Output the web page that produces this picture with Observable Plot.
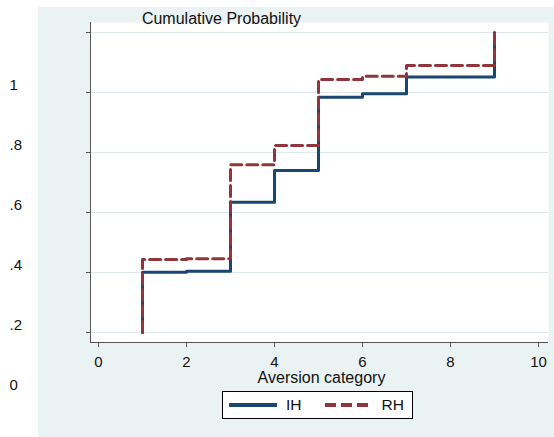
<!DOCTYPE html>
<html><head><meta charset="utf-8">
<script src="https://cdn.jsdelivr.net/npm/d3@7"></script>
<script src="https://cdn.jsdelivr.net/npm/@observablehq/plot@0.6"></script>
<style>
body{margin:0;background:#fff;}
#wrap{position:relative;width:554px;height:437px;overflow:hidden;font-family:"Liberation Sans",Arial,Helvetica,sans-serif;}
#bg{position:absolute;left:38px;top:7px;right:0;bottom:0;background:#eaf2f3;}
#chart{position:absolute;left:0;top:0;}
#legend{position:absolute;left:222px;top:391px;width:189px;height:26px;border:1px solid #000;background:#fff;display:flex;align-items:center;font-size:15.5px;color:#111;}
#legend .item{display:flex;align-items:center;}
#legend svg{display:block;}
</style>
</head><body>
<div id="wrap"><div id="bg"></div><div id="chart"></div><div id="legend"></div></div>
<script>
const categories = [1, 2, 3, 4, 5, 6, 7, 8, 9];
const ihValues = [0.201, 0.204, 0.434, 0.540, 0.784, 0.796, 0.852, 0.852, 1.0];
const rhValues = [0.243, 0.246, 0.559, 0.623, 0.843, 0.854, 0.890, 0.890, 1.0];
const seriesNames = ["IH", "RH"];
const xTicks = [0, 2, 4, 6, 8, 10];
const yTicks = [0, 0.2, 0.4, 0.6, 0.8, 1];
const yTickLabels = ["0", ".2", ".4", ".6", ".8", "1"];
const titleText = "Cumulative Probability";
const xLabel = "Aversion category";

const navy = "#1a476f", maroon = "#90353b";
const dash = "11,5";

function stepTable(vals) {
  return [{x: categories[0], y: 0}, ...categories.map((c, i) => ({x: c, y: vals[i]}))];
}
const ih = stepTable(ihValues);
const rh = stepTable(rhValues);

const axisLines = (index, scales, values, dim) => {
  const g = d3.create("svg:g").attr("stroke", "#555").attr("stroke-width", 1);
  const l = dim.marginLeft, r = dim.width - dim.marginRight, t = dim.marginTop, b = dim.height - dim.marginBottom;
  g.append("line").attr("x1", l + 0.5).attr("x2", l + 0.5).attr("y1", t).attr("y2", b + 0.5);
  g.append("line").attr("x1", l).attr("x2", r).attr("y1", b + 0.5).attr("y2", b + 0.5);
  return g.node();
};

const chart = Plot.plot({
  width: 554, height: 437,
  marginLeft: 90, marginRight: 6, marginTop: 22, marginBottom: 95,
  x: {domain: [0, 10], insetLeft: 8, insetRight: 10},
  y: {domain: [0, 1], insetTop: 10, insetBottom: 10},
  style: {background: "transparent", fontFamily: "'Liberation Sans', Arial, Helvetica, sans-serif", fontSize: "15px", color: "#111", overflow: "visible"},
  marks: [
    Plot.frame({fill: "white", stroke: null}),
    Plot.ruleY(yTicks, {y: d => d, stroke: "#dfe8ec", strokeWidth: 1}),
    axisLines,
    Plot.axisX({ticks: xTicks, tickSize: 5, tickPadding: 9, label: null, stroke: "#555", fontSize: 15}),
    Plot.axisY({ticks: yTicks, tickSize: 4, tickFormat: () => "", label: null, stroke: "#555"}),
    Plot.text(yTicks, {y: d => d, text: (d, i) => yTickLabels[i], frameAnchor: "left", textAnchor: "start", dx: -81, dy: 53, fontSize: 15}),
    Plot.line(ih, {x: "x", y: "y", curve: "step-after", stroke: navy, strokeWidth: 3}),
    Plot.line(rh, {x: "x", y: "y", curve: "step-after", stroke: maroon, strokeWidth: 3, strokeDasharray: dash}),
    Plot.text([titleText], {frameAnchor: "top-left", dx: 131, dy: -3.5, textAnchor: "middle", lineAnchor: "middle", fontSize: 16}),
    Plot.text([xLabel], {frameAnchor: "bottom", dx: 2, dy: 35, lineAnchor: "middle", fontSize: 16})
  ]
});
document.getElementById("chart").appendChild(chart);

// legend
const legend = d3.select("#legend");
const colors = [navy, maroon];
const dashes = [null, dash];
const gaps = [6, 23];
seriesNames.forEach((name, i) => {
  const item = legend.append("div").attr("class", "item").style("margin-left", gaps[i] + "px");
  const s = item.append("svg").attr("width", 48).attr("height", 6);
  s.append("line").attr("x1", 0).attr("x2", 48).attr("y1", 3).attr("y2", 3)
    .attr("stroke", colors[i]).attr("stroke-width", 4).attr("stroke-dasharray", dashes[i]);
  item.append("span").style("margin-left", "9px").text(name);
});
</script>
</body></html>
